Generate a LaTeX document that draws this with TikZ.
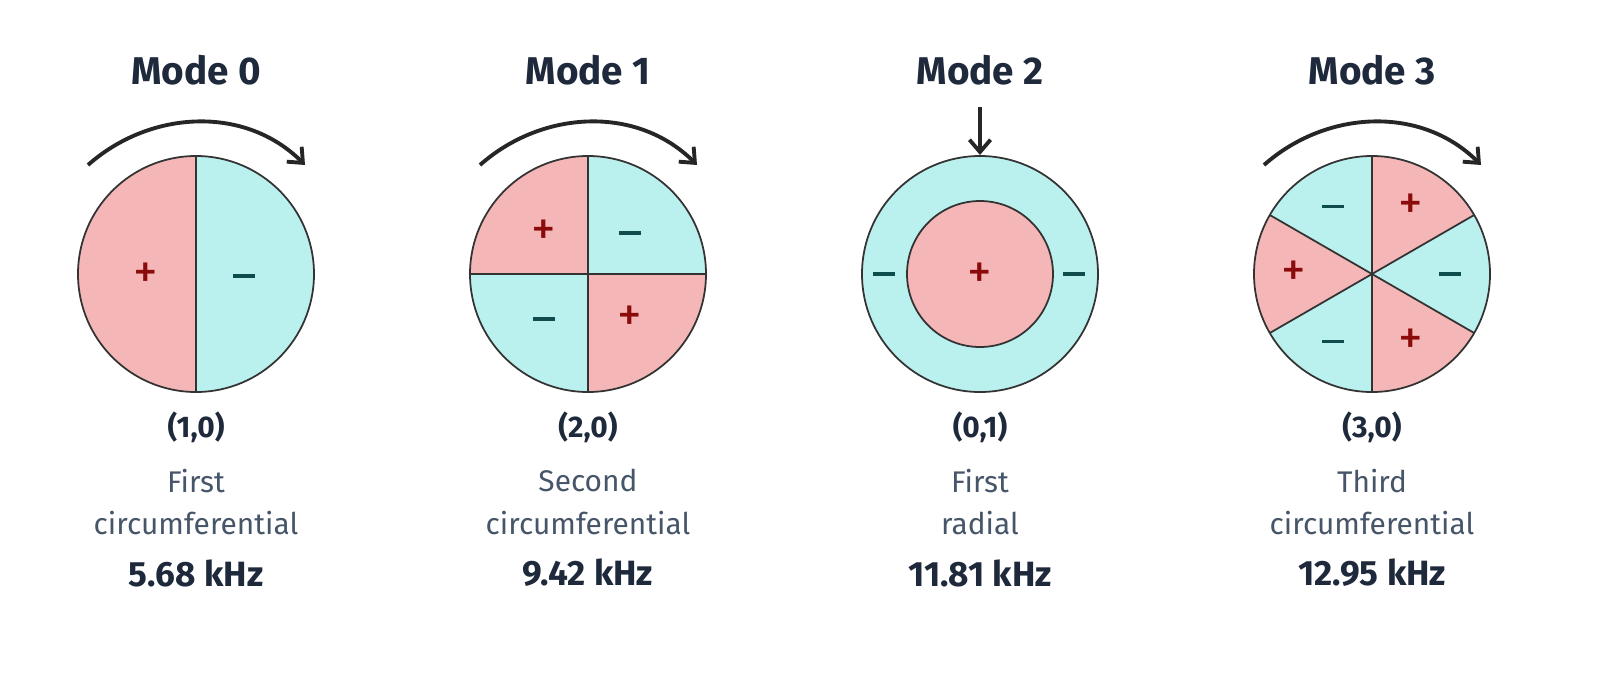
\documentclass[tikz,border=0pt]{standalone}
\usepackage{fontspec}
\setmainfont{Fira Sans}
\usetikzlibrary{arrows.meta,calc}
\definecolor{pinkf}{HTML}{F4B6B6}
\definecolor{cyanf}{HTML}{BAF0EE}
\definecolor{navy}{HTML}{1E293B}
\definecolor{slate}{HTML}{475569}
\definecolor{plusc}{HTML}{8B0A0A}
\definecolor{minusc}{HTML}{0F4C4C}
\tikzstyle{title}=[font=\bfseries\fontsize{22}{26}\selectfont, text=navy]
\tikzstyle{idx}=[font=\bfseries\fontsize{17}{20}\selectfont, text=navy]
\tikzstyle{desc}=[font=\fontsize{17}{20}\selectfont, text=slate, align=center]
\tikzstyle{freq}=[font=\bfseries\fontsize{20}{24}\selectfont, text=navy]
\tikzstyle{pl}=[font=\fontsize{28}{28}\selectfont, text=plusc, inner sep=0pt]
\tikzstyle{mi}=[fill=minusc, minimum width=12pt, minimum height=2pt, inner sep=0pt]
\tikzstyle{rim}=[draw=black!80, line width=1pt]
\tikzstyle{spin}=[draw=black!85, line width=2.2pt, -{Straight Barb[length=7pt,width=12pt]}]

\begin{document}
\begin{tikzpicture}[x=0.02cm, y=-0.02cm]

% Mode 0
\fill[pinkf] (196,156) arc (-90:-270:118) -- cycle;
\fill[cyanf] (196,156) arc (-90:90:118) -- cycle;
\draw[rim] (196,274) circle (118);
\draw[rim] (196,156) -- (196,392);
\node[title] (t0) at (196,70) {Mode 0};
\node[pl] (p0) at (146,276) {+};
\node[mi] (m0) at (244,276) {};
\coordinate (a0) at (88,165);
\coordinate (b0) at (305,165);
\draw[spin] (a0) .. controls (150,110) and (245,105) .. (b0);
\node[idx] (i0) at (196,427) {(1,0)};
\node[desc] (d0) at (196,502) {First\\[4pt]circumferential};
\node[freq] (f0) at (196,573) {5.68 kHz};

% Mode 1
\fill[pinkf] (588,274) -- (588,156) arc (-90:-180:118) -- cycle;
\fill[cyanf] (588,274) -- (706,274) arc (0:-90:118) -- cycle;
\fill[cyanf] (588,274) -- (470,274) arc (180:90:118) -- cycle;
\fill[pinkf] (588,274) -- (588,392) arc (90:0:118) -- cycle;
\draw[rim] (588,274) circle (118);
\draw[rim] (588,156) -- (588,392);
\draw[rim] (470,274) -- (706,274);
\node[title] (t1) at (588,70) {Mode 1};
\node[pl] (p1a) at (544,233) {+};
\node[mi] (m1a) at (630,233) {};
\node[mi] (m1b) at (544,319) {};
\node[pl] (p1b) at (630,319) {+};
\coordinate (a1) at (480,165);
\coordinate (b1) at (697,165);
\draw[spin] (a1) .. controls (542,110) and (637,105) .. (b1);
\node[idx] (i1) at (588,427) {(2,0)};
\node[desc] (d1) at (588,502) {Second\\[4pt]circumferential};
\node[freq] (f1) at (588,573) {9.42 kHz};

% Mode 2
\node[title] (t2) at (980,70) {Mode 2};
\draw[rim, fill=cyanf] (980,274) circle (118);
\draw[rim, fill=pinkf] (980,274) circle (73);
\node[mi] (m2a) at (884,274) {};
\node[pl] (p2) at (980,276) {+};
\node[mi] (m2b) at (1074,274) {};
\coordinate (a2) at (980,107);
\coordinate (b2) at (980,155);
\draw[spin] (a2) -- (b2);
\node[idx] (i2) at (980,427) {(0,1)};
\node[desc] (d2) at (980,502) {First\\[4pt]radial};
\node[freq] (f2) at (980,573) {11.81 kHz};

% Mode 3
\node[title] (t3) at (1372,70) {Mode 3};
\foreach \s/\c in {30/pinkf, 90/cyanf, 150/pinkf, 210/cyanf, 270/pinkf, 330/cyanf}
  \fill[\c] (1372,274) -- +(-\s:118) arc (-\s:-\s-60:118) -- cycle;
\draw[rim] (1372,274) circle (118);
\foreach \s in {30,90,150,210,270,330}
  \draw[rim] (1372,274) -- +(\s:118);
\foreach \s/\st/\sg in {60/pl/+, 120/mi/{}, 180/pl/+, 240/mi/{}, 300/pl/+, 0/mi/{}}
  \node[\st] (s\s) at ($(1372,274)+(-\s:78)$) {\sg};
\coordinate (a3) at (1264,165);
\coordinate (b3) at (1481,165);
\draw[spin] (a3) .. controls (1326,110) and (1421,105) .. (b3);
\node[idx] (i3) at (1372,427) {(3,0)};
\node[desc] (d3) at (1372,502) {Third\\[4pt]circumferential};
\node[freq] (f3) at (1372,573) {12.95 kHz};

\pgfresetboundingbox
\useasboundingbox (0,0) rectangle (1600,680);
\end{tikzpicture}
\end{document}
